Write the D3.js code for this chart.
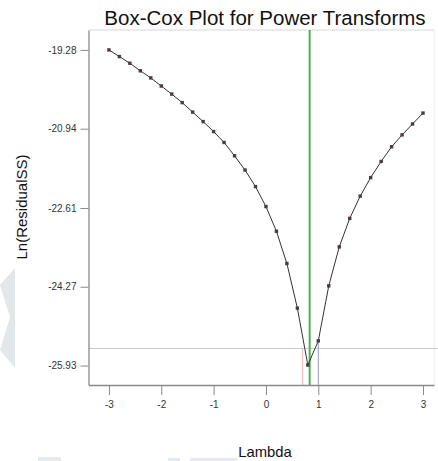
<!DOCTYPE html>
<html>
<head>
<meta charset="utf-8">
<script src="https://cdn.jsdelivr.net/npm/d3@7"></script>
<style>
  html, body { margin: 0; padding: 0; background: #fff; }
  svg { display: block; font-family: "Liberation Sans", Arial, sans-serif; }
</style>
</head>
<body>
<svg id="chart" width="438" height="461"></svg>
<script>
// lambda grid and ln(residual SS)
const lambdas = [-3, -2.8, -2.6, -2.4, -2.2, -2, -1.8, -1.6, -1.4, -1.2, -1, -0.8, -0.6, -0.4, -0.2, 0,
                 0.2, 0.4, 0.6, 0.8, 1, 1.2, 1.4, 1.6, 1.8, 2, 2.2, 2.4, 2.6, 2.8, 3];
const lnRSS = [-19.28, -19.42, -19.56, -19.72, -19.87, -20.04, -20.21, -20.39, -20.59, -20.79, -21.00,
               -21.23, -21.51, -21.81, -22.16, -22.58, -23.10, -23.78, -24.72, -25.92, -25.41, -24.25,
               -23.43, -22.83, -22.36, -21.97, -21.63, -21.32, -21.07, -20.84, -20.61];
const xTicks = [-3, -2, -1, 0, 1, 2, 3];
const yTicks = [-19.28, -20.94, -22.61, -24.27, -25.93];

const bestLambda = 0.835;   // green line
const ciLow = 0.70;         // pink line
const ciHigh = 1.0;         // purple line
const ciLevel = -25.57;     // horizontal threshold

const svg = d3.select("#chart");
const plotLeft = 88.5, plotRight = 434, plotTop = 30, plotBottom = 385;

const x = d3.scaleLinear().domain([-3.39, 3.21]).range([plotLeft, plotRight]);
const y = d3.scaleLinear().domain([-26.34, -18.86]).range([plotBottom, plotTop]);

// faint watermark shapes
svg.append("polygon")
    .attr("points", "15,268 15,368 0,350 10,317 0,285")
    .attr("fill", "#e2e7eb");
svg.append("rect").attr("x", 38).attr("y", 457).attr("width", 23).attr("height", 4).attr("fill", "#e6eaee");
svg.append("rect").attr("x", 168).attr("y", 458).attr("width", 12).attr("height", 3).attr("fill", "#e6eaee");
svg.append("rect").attr("x", 190).attr("y", 458).attr("width", 47).attr("height", 3).attr("fill", "#e6eaee");

// plot frame (light top / right)
svg.append("line").attr("x1", plotLeft).attr("x2", plotRight).attr("y1", plotTop).attr("y2", plotTop)
    .attr("stroke", "#d8d8d8");
svg.append("line").attr("x1", plotRight).attr("x2", plotRight).attr("y1", plotTop).attr("y2", plotBottom)
    .attr("stroke", "#ececec");

// threshold line
svg.append("line")
    .attr("x1", plotLeft).attr("x2", 438)
    .attr("y1", y(ciLevel)).attr("y2", y(ciLevel))
    .attr("stroke", "#c8c8c8").attr("stroke-width", 1);

// confidence limits
svg.append("line")
    .attr("x1", x(ciLow)).attr("x2", x(ciLow))
    .attr("y1", y(ciLevel)).attr("y2", plotBottom)
    .attr("stroke", "#f0c0c0").attr("stroke-width", 1.2);
svg.append("line")
    .attr("x1", x(ciHigh)).attr("x2", x(ciHigh))
    .attr("y1", y(lnRSS[lambdas.indexOf(1)])).attr("y2", plotBottom)
    .attr("stroke", "#a9a6cf").attr("stroke-width", 1.2);

// best lambda
svg.append("line")
    .attr("x1", x(bestLambda)).attr("x2", x(bestLambda))
    .attr("y1", plotTop).attr("y2", plotBottom)
    .attr("stroke", "#4cb050").attr("stroke-width", 2);

// curve
const pts = lambdas.map((l, i) => [l, lnRSS[i]]);
svg.append("path")
    .datum(pts)
    .attr("d", d3.line().x(d => x(d[0])).y(d => y(d[1])))
    .attr("fill", "none")
    .attr("stroke", "#333")
    .attr("stroke-width", 1);

svg.selectAll("rect.pt")
    .data(pts)
    .enter()
    .append("rect")
    .attr("class", "pt")
    .attr("x", d => x(d[0]) - 1.7)
    .attr("y", d => y(d[1]) - 1.7)
    .attr("width", 3.4)
    .attr("height", 3.4)
    .attr("fill", "#4a3c36");

// axes (plain hyphen for minus, like the original)
const xAxis = svg.append("g")
    .attr("transform", `translate(0,${plotBottom})`)
    .call(d3.axisBottom(x).tickValues(xTicks).tickFormat(d => String(d))
        .tickSize(10).tickPadding(6).tickSizeOuter(0));
const yAxis = svg.append("g")
    .attr("transform", `translate(${plotLeft},0)`)
    .call(d3.axisLeft(y).tickValues(yTicks).tickFormat(d => d.toFixed(2))
        .tickSize(8).tickPadding(4).tickSizeOuter(0));

[xAxis, yAxis].forEach(a => {
    a.select(".domain").attr("stroke", "#8a8a8a").attr("stroke-width", 1.3);
    a.selectAll(".tick line").attr("stroke", "#8a8a8a");
    a.selectAll(".tick text")
        .attr("fill", "#333")
        .style("font-size", "10px")
        .style("font-family", "Liberation Sans, Arial, sans-serif");
});

// titles
svg.append("text")
    .attr("x", 265).attr("y", 25)
    .attr("text-anchor", "middle")
    .style("font-size", "20.5px")
    .attr("fill", "#111")
    .text("Box-Cox Plot for Power Transforms");

svg.append("text")
    .attr("x", 265).attr("y", 457)
    .attr("text-anchor", "middle")
    .style("font-size", "14.8px")
    .attr("fill", "#111")
    .text("Lambda");

svg.append("text")
    .attr("transform", "translate(27,207) rotate(-90)")
    .attr("text-anchor", "middle")
    .style("font-size", "15px")
    .attr("fill", "#111")
    .text("Ln(ResidualSS)");
</script>
</body>
</html>
